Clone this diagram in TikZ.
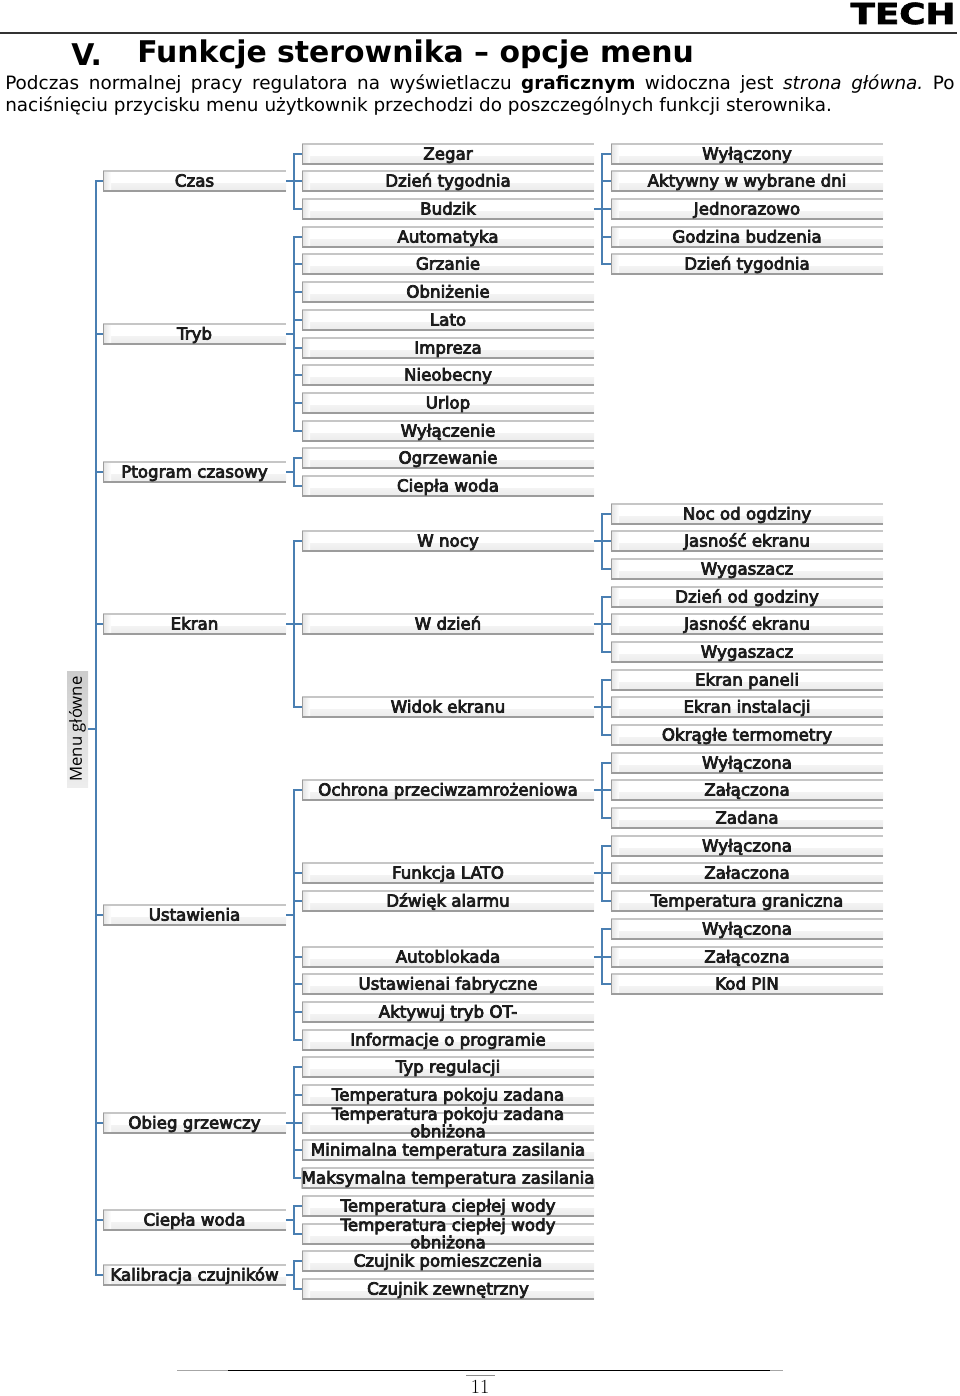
\documentclass[tikz,border=0pt]{standalone}
\usepackage{fontspec}
\usepackage{tikz}
\setmainfont{DejaVu Sans}
\frenchspacing
\newfontfamily\boxfont[FakeBold=4.5]{DejaVu Sans}
\newfontfamily\logofont[FakeBold=2.5]{DejaVu Sans Bold}
\newfontfamily\sidefont{Open Sans}
\newfontfamily\pagefont{Latin Modern Roman}
\definecolor{busblue}{HTML}{4A7FB2}
\definecolor{edgegray}{HTML}{9C9C9C}
\definecolor{topgray}{HTML}{C6C6C6}
\definecolor{inkblack}{HTML}{1C1C1C}
\newcommand{\twolines}[2]{\smash{\begin{tabular}{@{}c@{}}#1\\#2\end{tabular}}}

\begin{document}
\begin{tikzpicture}[
  x=0.75pt,y=-0.75pt,
  menubox/.style={minimum height=15.75pt,inner sep=0pt,text height=9.7pt,text depth=1.3pt,
                  text=inkblack,font=\boxfont\fontsize{12.5}{12}\selectfont,
                  path picture={
                    \shade[bottom color=topgray!35,top color=white]
                      (path picture bounding box.south west) rectangle ([yshift=6pt]path picture bounding box.south east);
                    \shade[left color=topgray!50,right color=white]
                      (path picture bounding box.south west) rectangle ([xshift=6pt]path picture bounding box.north west);
                    \draw[topgray,line width=1.8pt] (path picture bounding box.north west) -- (path picture bounding box.north east);
                    \draw[edgegray,line width=3pt] (path picture bounding box.south west) -- (path picture bounding box.south east);
                    \draw[edgegray,line width=1.4pt] (path picture bounding box.south west) -- (path picture bounding box.north west);
                  }},
  levelone/.style={menubox,minimum width=137.25pt},
  leveltwo/.style={menubox,minimum width=219pt},
  levelthree/.style={menubox,minimum width=204pt},
  link/.style={busblue,line width=1.6pt,to path={-- ++(8,0) |- (\tikztotarget)}}
]
\useasboundingbox (0,0) rectangle (960,1396);

% page head
\node[inner sep=0pt,xscale=1.24,font=\logofont\fontsize{21.6}{21.6}\selectfont] (logo) at (903,13.5) {TECH};
\draw[black!80,line width=1.5pt] (0,33) -- (957,33);
\node[anchor=west,inner sep=0pt,font=\bfseries\fontsize{22.4}{22.4}\selectfont] (chapter) at (71,54.5) {V.};
\node[anchor=west,inner sep=0pt,font=\bfseries\fontsize{22.4}{22.4}\selectfont] (title) at (137,54.5) {Funkcje sterownika – opcje menu};
\node[anchor=north west,inner sep=0pt,text width=712pt,align=justify,
      font=\fontsize{13.8}{17.2}\selectfont] (intro) at (5,74)
  {Podczas normalnej pracy regulatora na wyświetlaczu \textbf{graficznym} widoczna jest \textit{strona główna.} Po\linebreak
   naciśnięciu przycisku menu użytkownik przechodzi do poszczególnych funkcji sterownika.};

\node[rotate=90,minimum width=87pt,minimum height=15.75pt,inner sep=0pt,left color=black!20,right color=black!7,shading angle=0,
      font=\sidefont\fontsize{12.5}{12.5}\selectfont] (main) at (77.5,729) {Menu główne};

% first level
\node[levelone] (czas)   at (194.5,181)  {Czas};
\node[levelone] (tryb)   at (194.5,334)  {Tryb};
\node[levelone] (prog)   at (194.5,472)  {Ptogram czasowy};
\node[levelone] (ekran)  at (194.5,624)  {Ekran};
\node[levelone] (ustaw)  at (194.5,915)  {Ustawienia};
\node[levelone] (obieg)  at (194.5,1123) {Obieg grzewczy};
\node[levelone] (woda)   at (194.5,1220) {Ciepła woda};
\node[levelone] (kalib)  at (194.5,1275) {Kalibracja czujników};

% second level
\node[leveltwo] (zegar)  at (448,154)  {Zegar};
\node[leveltwo] (dzient) at (448,181)  {Dzień tygodnia};
\node[leveltwo] (budzik) at (448,209)  {Budzik};
\node[leveltwo] (auto)   at (448,237)  {Automatyka};
\node[leveltwo] (grz)    at (448,264)  {Grzanie};
\node[leveltwo] (obniz)  at (448,292)  {Obniżenie};
\node[leveltwo] (lato)   at (448,320)  {Lato};
\node[leveltwo] (impr)   at (448,348)  {Impreza};
\node[leveltwo] (nieob)  at (448,375)  {Nieobecny};
\node[leveltwo] (urlop)  at (448,403)  {Urlop};
\node[leveltwo] (wylacz) at (448,431)  {Wyłączenie};
\node[leveltwo] (ogrz)   at (448,458)  {Ogrzewanie};
\node[leveltwo] (cwu)    at (448,486)  {Ciepła woda};
\node[leveltwo] (wnocy)  at (448,541)  {W nocy};
\node[leveltwo] (wdzien) at (448,624)  {W dzień};
\node[leveltwo] (widok)  at (448,707)  {Widok ekranu};
\node[leveltwo] (ochr)   at (448,790)  {Ochrona przeciwzamrożeniowa};
\node[leveltwo] (flato)  at (448,873)  {Funkcja LATO};
\node[leveltwo] (dzwiek) at (448,901)  {Dźwięk alarmu};
\node[leveltwo] (blok)   at (448,957)  {Autoblokada};
\node[leveltwo] (fabr)   at (448,984)  {Ustawienai fabryczne};
\node[leveltwo] (aktyw)  at (448,1012) {Aktywuj tryb OT-};
\node[leveltwo] (info)   at (448,1040) {Informacje o programie};
\node[leveltwo] (typ)    at (448,1067) {Typ regulacji};
\node[leveltwo] (tpok)   at (448,1095) {Temperatura pokoju zadana};
\node[leveltwo] (tpoko)  at (448,1123) {\twolines{Temperatura pokoju zadana}{obniżona}};
\node[leveltwo] (tmin)   at (448,1150) {Minimalna temperatura zasilania};
\node[leveltwo] (tmax)   at (448,1178) {Maksymalna temperatura zasilania};
\node[leveltwo] (tcw)    at (448,1206) {Temperatura ciepłej wody};
\node[leveltwo] (tcwo)   at (448,1234) {\twolines{Temperatura ciepłej wody}{obniżona}};
\node[leveltwo] (cpom)   at (448,1261) {Czujnik pomieszczenia};
\node[leveltwo] (czew)   at (448,1289) {Czujnik zewnętrzny};

% third level
\node[levelthree] (bwyl)  at (747,154) {Wyłączony};
\node[levelthree] (bakt)  at (747,181) {Aktywny w wybrane dni};
\node[levelthree] (bjed)  at (747,209) {Jednorazowo};
\node[levelthree] (bgod)  at (747,237) {Godzina budzenia};
\node[levelthree] (bdzi)  at (747,264) {Dzień tygodnia};
\node[levelthree] (nod)   at (747,514) {Noc od ogdziny};
\node[levelthree] (njas)  at (747,541) {Jasność ekranu};
\node[levelthree] (nwyg)  at (747,569) {Wygaszacz};
\node[levelthree] (dod)   at (747,597) {Dzień od godziny};
\node[levelthree] (djas)  at (747,624) {Jasność ekranu};
\node[levelthree] (dwyg)  at (747,652) {Wygaszacz};
\node[levelthree] (epan)  at (747,680) {Ekran paneli};
\node[levelthree] (eins)  at (747,707) {Ekran instalacji};
\node[levelthree] (eokr)  at (747,735) {Okrągłe termometry};
\node[levelthree] (owyl)  at (747,763) {Wyłączona};
\node[levelthree] (ozal)  at (747,790) {Załączona};
\node[levelthree] (ozad)  at (747,818) {Zadana};
\node[levelthree] (lwyl)  at (747,846) {Wyłączona};
\node[levelthree] (lzal)  at (747,873) {Załaczona};
\node[levelthree] (ltem)  at (747,901) {Temperatura graniczna};
\node[levelthree] (awyl)  at (747,929) {Wyłączona};
\node[levelthree] (azal)  at (747,957) {Załącozna};
\node[levelthree] (apin)  at (747,984) {Kod PIN};

% connectors
\draw[link] (main.south) to (czas.west) (main.south) to (tryb.west) (main.south) to (prog.west) (main.south) to (ekran.west)
            (main.south) to (ustaw.west) (main.south) to (obieg.west) (main.south) to (woda.west) (main.south) to (kalib.west);
\draw[link] (czas.east) to (zegar.west) (czas.east) to (dzient.west) (czas.east) to (budzik.west);
\draw[link] (tryb.east) to (auto.west) (tryb.east) to (grz.west) (tryb.east) to (obniz.west) (tryb.east) to (lato.west)
            (tryb.east) to (impr.west) (tryb.east) to (nieob.west) (tryb.east) to (urlop.west) (tryb.east) to (wylacz.west);
\draw[link] (prog.east) to (ogrz.west) (prog.east) to (cwu.west);
\draw[link] (ekran.east) to (wnocy.west) (ekran.east) to (wdzien.west) (ekran.east) to (widok.west);
\draw[link] (ustaw.east) to (ochr.west) (ustaw.east) to (flato.west) (ustaw.east) to (dzwiek.west) (ustaw.east) to (blok.west)
            (ustaw.east) to (fabr.west) (ustaw.east) to (aktyw.west) (ustaw.east) to (info.west);
\draw[link] (obieg.east) to (typ.west) (obieg.east) to (tpok.west) (obieg.east) to (tpoko.west) (obieg.east) to (tmin.west) (obieg.east) to (tmax.west);
\draw[link] (woda.east) to (tcw.west) (woda.east) to (tcwo.west);
\draw[link] (kalib.east) to (cpom.west) (kalib.east) to (czew.west);
\draw[link] (budzik.east) to (bwyl.west) (budzik.east) to (bakt.west) (budzik.east) to (bjed.west) (budzik.east) to (bgod.west) (budzik.east) to (bdzi.west);
\draw[link] (wnocy.east) to (nod.west) (wnocy.east) to (njas.west) (wnocy.east) to (nwyg.west);
\draw[link] (wdzien.east) to (dod.west) (wdzien.east) to (djas.west) (wdzien.east) to (dwyg.west);
\draw[link] (widok.east) to (epan.west) (widok.east) to (eins.west) (widok.east) to (eokr.west);
\draw[link] (ochr.east) to (owyl.west) (ochr.east) to (ozal.west) (ochr.east) to (ozad.west);
\draw[link] (flato.east) to (lwyl.west) (flato.east) to (lzal.west) (flato.east) to (ltem.west);
\draw[link] (blok.east) to (awyl.west) (blok.east) to (azal.west) (blok.east) to (apin.west);

% page foot
\draw[black!35,line width=1pt] (177,1370.5) -- (783,1370.5);
\draw[black,line width=0.8pt] (228,1370.5) -- (770,1370.5);
\draw[black!45,line width=0.6pt] (466,1375.5) -- (495,1375.5);
\node[inner sep=0pt,font=\pagefont\fontsize{15}{15}\selectfont] (pagenum) at (480,1386.5) {11};
\end{tikzpicture}
\end{document}
